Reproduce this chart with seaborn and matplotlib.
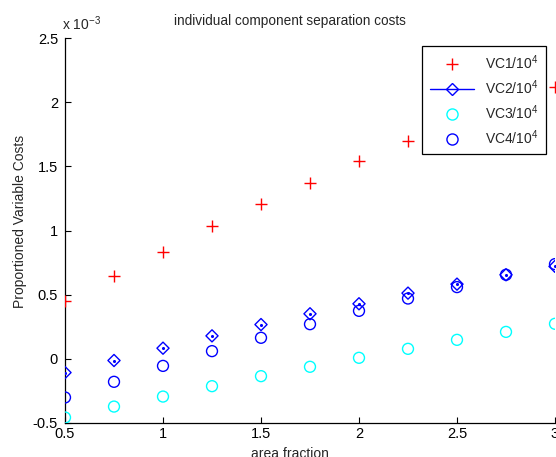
import matplotlib
matplotlib.use("Agg")
import matplotlib.pyplot as plt
import seaborn as sns
import pandas as pd
from matplotlib.lines import Line2D

area_fraction = [0.5, 0.75, 1.0, 1.25, 1.5, 1.75, 2.0, 2.25, 2.5, 2.75, 3.0]
vc1 = [0.447, 0.647, 0.836, 1.037, 1.206, 1.374, 1.543, 1.699, 1.84, 1.98, 2.122]
vc2 = [-0.107, -0.013, 0.083, 0.179, 0.267, 0.351, 0.429, 0.512, 0.582, 0.655, 0.720]
vc3 = [-0.457, -0.372, -0.294, -0.213, -0.135, -0.062, 0.008, 0.078, 0.148, 0.210, 0.273]
vc4 = [-0.301, -0.179, -0.055, 0.060, 0.164, 0.270, 0.374, 0.470, 0.559, 0.655, 0.738]
labels = ["VC1/10$^4$", "VC2/10$^4$", "VC3/10$^4$", "VC4/10$^4$"]
y_ticks = [-0.5, 0, 0.5, 1, 1.5, 2, 2.5]
y_ticklabels = ["-0.5", "0", "0.5", "1", "1.5", "2", "2.5"]
x_ticks = [0.5, 1, 1.5, 2, 2.5, 3]
x_ticklabels = ["0.5", "1", "1.5", "2", "2.5", "3"]

sns.set_style("white")
plt.rcParams["font.family"] = ["Liberation Sans", "DejaVu Sans"]
plt.rcParams["mathtext.fontset"] = "custom"
plt.rcParams["mathtext.rm"] = "Liberation Sans"
plt.rcParams["mathtext.it"] = "Liberation Sans:italic"

df = pd.DataFrame({"x": area_fraction, "vc1": vc1, "vc2": vc2, "vc3": vc3, "vc4": vc4})

W, H = 556, 457
fig = plt.figure(figsize=(W / 100, H / 100), dpi=100)
ax = fig.add_axes([65 / W, 34 / H, 490 / W, 385 / H])

blue = "#0000ff"
sns.scatterplot(data=df, x="x", y="vc1", marker="+", s=85, color="red", linewidth=1.0, ax=ax, zorder=3)
sns.scatterplot(data=df, x="x", y="vc2", marker="D", s=38, facecolor="none", edgecolor=blue, linewidth=1.0, ax=ax, zorder=3)
sns.scatterplot(data=df, x="x", y="vc2", marker="o", s=5, color=blue, linewidth=0, ax=ax, zorder=3)
sns.scatterplot(data=df, x="x", y="vc3", marker="o", s=62, facecolor="none", edgecolor="cyan", linewidth=1.0, ax=ax, zorder=3)
sns.scatterplot(data=df, x="x", y="vc4", marker="o", s=62, facecolor="none", edgecolor=blue, linewidth=1.0, ax=ax, zorder=3)

ax.set_xlim(0.5, 3)
ax.set_ylim(-0.5, 2.5)
ax.set_xticks(x_ticks)
ax.set_xticklabels(x_ticklabels)
ax.set_yticks(y_ticks)
ax.set_yticklabels(y_ticklabels)
ax.tick_params(direction="in", length=4, width=0.8, labelsize=10.5, colors="black",
               left=True, bottom=True)
ax.tick_params(axis="y", pad=5)
ax.tick_params(axis="x", pad=3)
for side in ["top", "right"]:
    ax.spines[side].set_visible(False)
for side in ["left", "bottom"]:
    ax.spines[side].set_color("black")
    ax.spines[side].set_linewidth(0.9)

ax.set_xlabel("area fraction", fontsize=10)
ax.xaxis.set_label_coords((290 - 65) / 490, -(447 - 423) / 385)
ax.set_ylabel("Proportioned Variable Costs", fontsize=10)
ax.yaxis.set_label_coords((27 - 65) / 490, (423 - 221) / 385)

fig.text(290 / W, 1 - 25 / H, "individual component separation costs", fontsize=9.8,
         ha="center", va="baseline")
fig.text(62 / W, 1 - 30 / H, "x 10$^{-3}$", fontsize=10, ha="left", va="baseline")

handles = [
    Line2D([], [], marker="+", color="red", linestyle="none", markersize=9, markeredgewidth=1.0),
    Line2D([], [], marker="D", color=blue, linestyle="-", linewidth=1.0, markersize=6,
           markerfacecolor="none", markeredgewidth=1.0),
    Line2D([], [], marker="o", color="cyan", linestyle="none", markersize=8, markerfacecolor="none", markeredgewidth=1.0),
    Line2D([], [], marker="o", color=blue, linestyle="none", markersize=8, markerfacecolor="none", markeredgewidth=1.0),
]
leg = ax.legend(handles, labels, loc="upper left",
                bbox_to_anchor=(422 / W, 1 - 46 / H), bbox_transform=fig.transFigure,
                borderaxespad=0, frameon=True, fancybox=False, framealpha=1,
                edgecolor="black", fontsize=10,
                handlelength=3.2, labelspacing=0.45, borderpad=0.55, handletextpad=0.75)
leg.get_frame().set_linewidth(0.9)
leg.set_zorder(5)

fig.savefig("out.png", dpi=100)
